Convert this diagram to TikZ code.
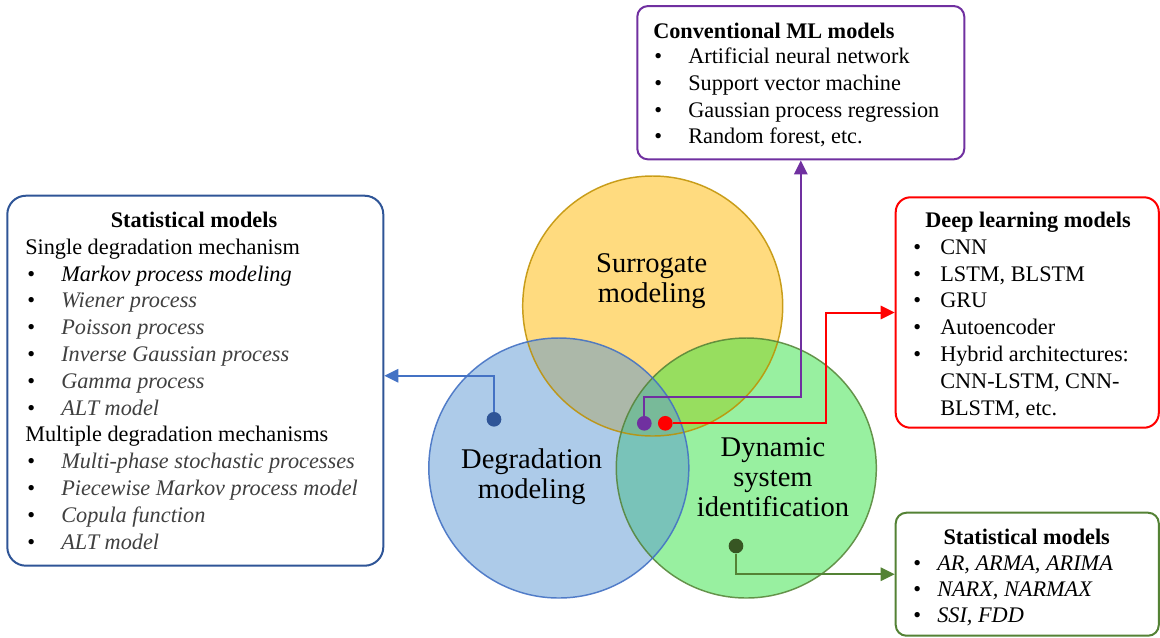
\documentclass[tikz,border=0pt]{standalone}
\usepackage{fontspec}
\setmainfont{Liberation Serif}
\usetikzlibrary{arrows.meta,calc}
\definecolor{cyel}{RGB}{255,219,127}
\definecolor{cyelo}{RGB}{191,144,0}
\definecolor{cblu}{RGB}{91,151,211}
\definecolor{cbluo}{RGB}{68,114,196}
\definecolor{cgrn}{RGB}{49,225,65}
\definecolor{cgrno}{RGB}{84,130,53}
\definecolor{cnavy}{RGB}{47,85,151}
\definecolor{cpur}{RGB}{112,48,160}
\definecolor{cred}{RGB}{255,0,0}
\definecolor{cdkg}{RGB}{55,86,35}
\definecolor{cgry}{RGB}{64,64,64}
\newcommand{\fsb}{\fontsize{16.7pt}{20pt}\selectfont}
\newcommand{\fsc}{\fontsize{21.4pt}{22.5pt}\selectfont}
\begin{document}
\begin{tikzpicture}[x=0.75pt,y=-0.75pt,
 txt/.style={inner sep=0pt, anchor=base west, font=\fsb},
 ttl/.style={inner sep=0pt, anchor=base, font=\fsb\bfseries},
 ttlw/.style={inner sep=0pt, anchor=base west, font=\fsb\bfseries},
 itl/.style={inner sep=0pt, anchor=base west, font=\fsb\itshape, text=cgry},
 itk/.style={inner sep=0pt, anchor=base west, font=\fsb\itshape, text=black},
 infobox/.style={draw, line width=1.5pt, fill=white, rounded corners=8pt, inner sep=0pt},
 dotn/.style={circle, fill, inner sep=0pt, minimum size=11pt},
 conn/.style={line width=1.5pt, -{Triangle[length=10.5pt,width=10pt]}},
 clabel/.style={align=center, font=\fsc, inner sep=0pt}]
\useasboundingbox (0,0) rectangle (1160,637);
% circles
\fill[cyel] (652.7,306) circle (97.5pt);
\fill[cgrn, opacity=0.5] (746.3,468) circle (97.5pt);
\fill[cblu, opacity=0.5] (558.8,468) circle (97.5pt);
\draw[cyelo, line width=1.1pt, opacity=0.85] (652.7,306) circle (97.5pt);
\draw[cgrno, line width=1.1pt, opacity=0.85] (746.3,468) circle (97.5pt);
\draw[cbluo, line width=1.1pt, opacity=0.9] (558.8,468) circle (97.5pt);
\node[clabel] (sl) at (651.7,281) {Surrogate\\modeling};
\node[clabel] (dl) at (531.7,477) {Degradation\\modeling};
\node[clabel] (yl) at (773,477) {Dynamic\\system\\identification};
% boxes
\node[infobox, draw=cnavy, rounded corners=14pt, minimum width=282pt, minimum height=277.5pt] (lbox) at (195.3,380.7) {};
\node[infobox, draw=cpur, minimum width=245.25pt, minimum height=115pt] (tbox) at (800.8,82.7) {};
\node[infobox, draw=cred, rounded corners=11pt, minimum width=197.3pt, minimum height=172.8pt] (rbox) at (1027.25,312.5) {};
\node[infobox, draw=cgrno, minimum width=197.3pt, minimum height=92.25pt] (gbox) at (1027.25,574.2) {};
% dots positions
\node[dotn, fill=cnavy] (bdot) at (494,419.3) {};
\node[dotn, fill=cpur] (pdot) at (644.3,423.3) {};
\node[dotn, fill=cred] (rdot) at (665.3,423.3) {};
\node[dotn, fill=cdkg] (gdot) at (736,546) {};
\coordinate (pbend) at (644.3,397.3);
\coordinate (rbend) at (826,423.3);
% connectors
\draw[conn, color=cbluo] (bdot) |- ([yshift=3.75pt]lbox.east);
\draw[conn, color=cpur] (pdot) -- (pbend) -| (tbox.south);
\draw[conn, color=cred] (rdot) -- (rbend) |- (rbox.west);
\draw[conn, color=cgrno] (gdot) |- (gbox.west);
% left box text
\node[ttl] (lt) at (194,227.7) {Statistical models};
\node[txt] (ls) at (25,254.3) {Single degradation mechanism};
\node[txt] (lb1) at (27,281.1) {•};
\node[itk] (li1) at (61,281.1) {Markov process modeling};
\node[txt] (lb2) at (27,307.9) {•};
\node[itl] (li2) at (61,307.9) {Wiener process};
\node[txt] (lb3) at (27,334.7) {•};
\node[itl] (li3) at (61,334.7) {Poisson process};
\node[txt] (lb4) at (27,361.5) {•};
\node[itl] (li4) at (61,361.5) {Inverse Gaussian process};
\node[txt] (lb5) at (27,388.3) {•};
\node[itl] (li5) at (61,388.3) {Gamma process};
\node[txt] (lb6) at (27,415.1) {•};
\node[itl] (li6) at (61,415.1) {ALT model};
\node[txt] (lm) at (25,441.9) {Multiple degradation mechanisms};
\node[txt] (lb7) at (27,468.7) {•};
\node[itl] (li7) at (61,468.7) {Multi-phase stochastic processes};
\node[txt] (lb8) at (27,495.5) {•};
\node[itl] (li8) at (61,495.5) {Piecewise Markov process model};
\node[txt] (lb9) at (27,522.3) {•};
\node[itl] (li9) at (61,522.3) {Copula function};
\node[txt] (lb10) at (27,549.1) {•};
\node[itl] (li10) at (61,549.1) {ALT model};
% top box text
\node[ttlw] (tt) at (653,38) {Conventional ML models};
\node[txt] (tb1) at (654,63.7) {•};
\node[txt] (ti1) at (688,63.7) {Artificial neural network};
\node[txt] (tb2) at (654,90.4) {•};
\node[txt] (ti2) at (688,90.4) {Support vector machine};
\node[txt] (tb3) at (654,117.1) {•};
\node[txt] (ti3) at (688,117.1) {Gaussian process regression};
\node[txt] (tb4) at (654,143.8) {•};
\node[txt] (ti4) at (688,143.8) {Random forest, etc.};
% red box text
\node[ttl] (rt) at (1028,227.7) {Deep learning models};
\node[txt] (rb1) at (913,254.3) {•};
\node[txt] (ri1) at (940,254.3) {CNN};
\node[txt] (rb2) at (913,281.1) {•};
\node[txt] (ri2) at (940,281.1) {LSTM, BLSTM};
\node[txt] (rb3) at (913,307.9) {•};
\node[txt] (ri3) at (940,307.9) {GRU};
\node[txt] (rb4) at (913,334.7) {•};
\node[txt] (ri4) at (940,334.7) {Autoencoder};
\node[txt] (rb5) at (913,361.5) {•};
\node[txt] (ri5) at (940,361.5) {Hybrid architectures:};
\node[txt] (ri6) at (940,388.3) {CNN-LSTM, CNN-};
\node[txt] (ri7) at (940,415.1) {BLSTM, etc.};
% green box text
\node[ttl] (gt) at (1026.7,544.3) {Statistical models};
\node[txt] (gb1) at (913,570.3) {•};
\node[itk] (gi1) at (937,570.3) {AR, ARMA, ARIMA};
\node[txt] (gb2) at (913,596.3) {•};
\node[itk] (gi2) at (937,596.3) {NARX, NARMAX};
\node[txt] (gb3) at (913,622.3) {•};
\node[itk] (gi3) at (937,622.3) {SSI, FDD};
\end{tikzpicture}
\end{document}
